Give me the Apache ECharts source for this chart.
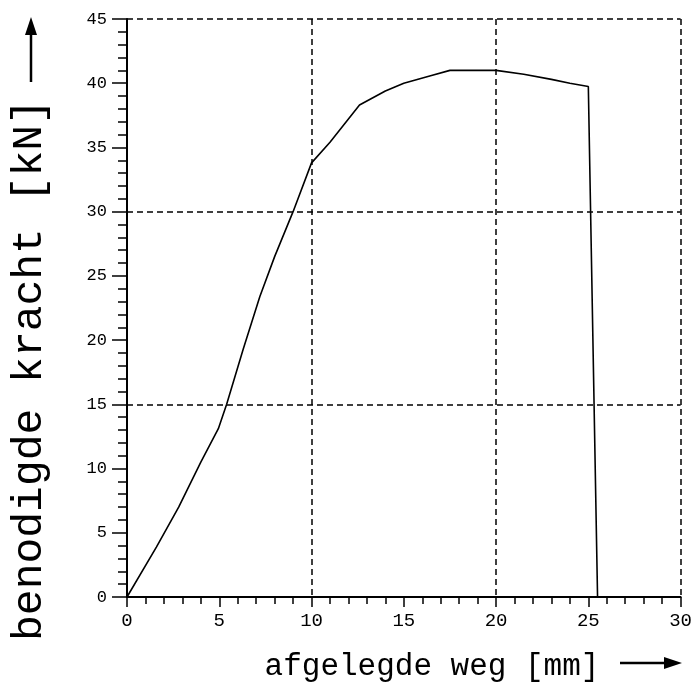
<!DOCTYPE html>
<html>
<head>
<meta charset="utf-8">
<script src="https://cdn.jsdelivr.net/npm/echarts@6/dist/echarts.min.js"></script>
<style>html,body{margin:0;padding:0;background:#fff;}#c{width:695px;height:684px;}</style>
</head>
<body>
<div id="c"></div>
<script>
// displacement [mm]
const weg = [0, 1.6, 2.8, 4.0, 4.95, 5.4, 6.3, 7.2, 8.0, 9.0, 10.0, 11.0, 12.6, 14.0, 15.0, 16.5, 17.5, 19.0, 20.0, 21.5, 23.0, 24.0, 25.0, 25.5];
// required force [kN]
const kracht = [0, 3.9, 7.0, 10.5, 13.1, 15.0, 19.3, 23.4, 26.5, 30.0, 33.8, 35.4, 38.3, 39.4, 40.0, 40.6, 41.0, 41.0, 41.0, 40.7, 40.3, 40.0, 39.75, 0];
const xTitle = 'afgelegde weg [mm]';
const yTitle = 'benodigde kracht [kN]';
const xMin = 0, xMax = 30, xStep = 5, xGridStep = 10;
const yMin = 0, yMax = 45, yStep = 5, yGridStep = 15;

const chart = echarts.init(document.getElementById('c'), null, {renderer: 'canvas'});
const FONT = '"Liberation Mono", "DejaVu Sans Mono", monospace';
const grid = {left: 127, right: 14, top: 19, bottom: 87};
const dashed = {show: true, lineStyle: {color: '#000', type: [6, 4], width: 1.5}};

chart.setOption({
  animation: false,
  backgroundColor: '#fff',
  grid: grid,
  xAxis: [{
    type: 'value', min: xMin, max: xMax, interval: xStep,
    axisLine: {show: true, onZero: false, lineStyle: {color: '#000', width: 2}},
    axisTick: {show: true, length: 10, lineStyle: {color: '#000', width: 1.5}},
    minorTick: {show: true, splitNumber: 5, length: 7, lineStyle: {color: '#000', width: 1.5}},
    axisLabel: {color: '#000', fontFamily: FONT, fontSize: 19, margin: 14},
    splitLine: {show: false}
  }, {
    type: 'value', min: xMin, max: xMax, interval: xGridStep, position: 'bottom',
    axisLine: {show: false}, axisTick: {show: false}, axisLabel: {show: false},
    splitLine: dashed
  }],
  yAxis: [{
    type: 'value', min: yMin, max: yMax, interval: yStep,
    axisLine: {show: true, onZero: false, lineStyle: {color: '#000', width: 2}},
    axisTick: {show: true, length: 15, lineStyle: {color: '#000', width: 1.5}},
    minorTick: {show: true, splitNumber: 5, length: 9, lineStyle: {color: '#000', width: 1.5}},
    axisLabel: {color: '#000', fontFamily: FONT, fontSize: 17, margin: 20},
    splitLine: {show: false}
  }, {
    type: 'value', min: yMin, max: yMax, interval: yGridStep, position: 'left',
    axisLine: {show: false}, axisTick: {show: false}, axisLabel: {show: false},
    splitLine: dashed
  }],
  series: [{
    type: 'line',
    xAxisIndex: 0, yAxisIndex: 0,
    data: weg.map((x, i) => [x, kracht[i]]),
    showSymbol: false,
    symbol: 'none',
    lineStyle: {color: '#000', width: 1.6},
    z: 5
  }],
  graphic: [
    {type: 'text', x: 432, y: 667, style: {text: xTitle, font: '31px ' + FONT, fill: '#000', textAlign: 'center', textVerticalAlign: 'middle'}},
    {type: 'line', shape: {x1: 620, y1: 663, x2: 668, y2: 663}, style: {stroke: '#000', lineWidth: 2.5}},
    {type: 'polygon', shape: {points: [[682, 663], [664, 657], [664, 669]]}, style: {fill: '#000'}},
    {type: 'text', x: 30, y: 370, rotation: Math.PI / 2, style: {text: yTitle, font: '43px ' + FONT, fill: '#000', textAlign: 'center', textVerticalAlign: 'middle'}},
    {type: 'line', shape: {x1: 31, y1: 82, x2: 31, y2: 32}, style: {stroke: '#000', lineWidth: 2.5}},
    {type: 'polygon', shape: {points: [[31, 17], [25, 35], [37, 35]]}, style: {fill: '#000'}}
  ]
});
</script>
</body>
</html>
